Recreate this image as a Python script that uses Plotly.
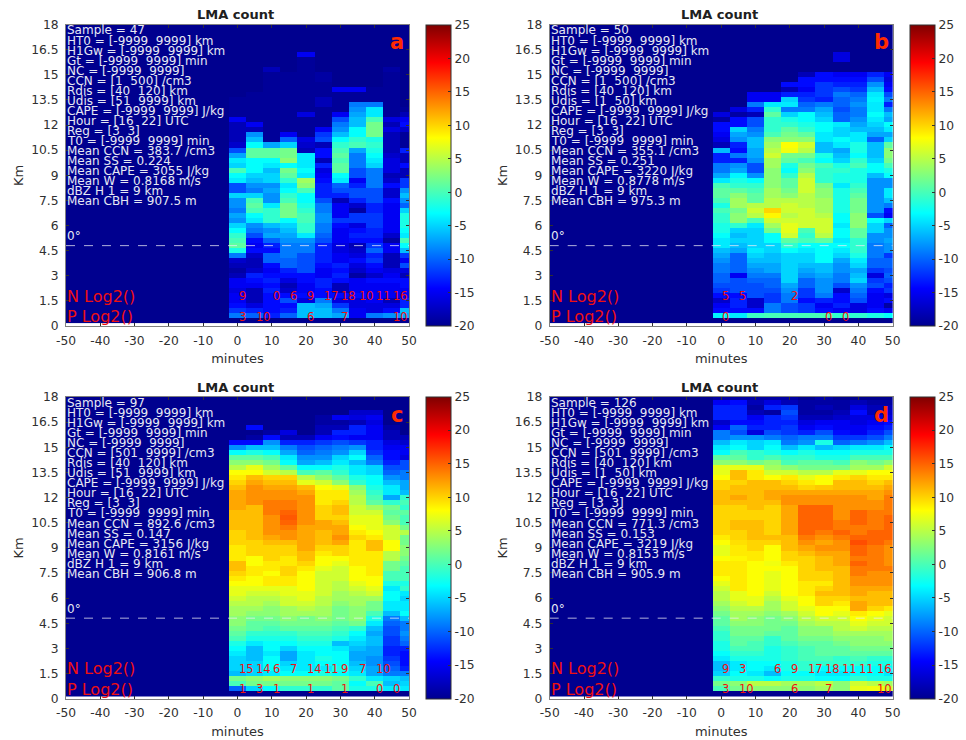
import plotly.graph_objects as go

# ---------- data ----------
minutes = [-50, -45, -40, -35, -30, -25, -20, -15, -10, -5, 0, 5, 10, 15, 20, 25, 30, 35, 40, 45, 50]
post_minutes = [0, 5, 10, 15, 20, 25, 30, 35, 40, 45, 50]
heights = [round(0.3 * k, 1) for k in range(1, 61)]
x_ticks = [-50, -40, -30, -20, -10, 0, 10, 20, 30, 40, 50]
y_ticks = [0, 1.5, 3, 4.5, 6, 7.5, 9, 10.5, 12, 13.5, 15, 16.5, 18]
y_tick_text = ["0", "1.5", "3", "4.5", "6", "7.5", "9", "10.5", "12", "13.5", "15", "16.5", "18"]
cb_ticks = [-20, -15, -10, -5, 0, 5, 10, 15, 20, 25]

# each inner list is one time column, listed from the lowest height bin upward
a_cols = [
 [-20,-9,-12,-14,-15,-15,-16,-15,-15,-18,-19,-18,-17,-9,-2,1,0,-1,-3,-5,-8,-7,-9,-8,-8,-5,-11,-11,-4,-3,0,-5,-4,-7,-11,-17,-18,-18,-18,-18,-15,-19.5,-19.5,-19.5,-19.5],
 [-20,-10,-13,-16,-18,-18,-18,-15,-14,-13,-17,-18,-18,-17,-14,-15,-14,-11,-9,-8,-4,-3,0,1,0,-5,-9,-8,-6,-5,-3,-3,-3,1,1,-3,-6,-8,-18,-15,-19.5,-19.5,-19.5,-19.5,-19.5,-19.5],
 [-20,-13,-14,-14,-14,-14,-13,-14,-13,-14,-15,-14,-10,-10,-14,-13,-10,-7,-8,-6,-1,-1,-1,-4,-8,-8,-7,-8,-5,-5,-6,-4,-3,1,1,-7,-19.5,-19.5,-19.5,-19.5,-19.5,-19.5,-19.5,-19.5,-19.5,-19.5,-19.5,-19.5,-19.5,-19.5,-18],
 [-20,-10,-13,-14,-11,-14,-17,-18,-16,-14,-13,-10,-10,-9,-9,-9,-8,-7,-6,-5,-3,2,2,2,0,-1,-3,-4,-1,1,2,-3,3,2,2,-5,-10,-15,-19.5,-19.5,-19.5,-19.5,-19.5,-19.5,-19.5,-19.5,-19.5,-19.5,-19.5,-19.5],
 [-20,-6,-6,-6,-16,-14,-15,-15,-14,-14,-11,-11,-11,-11,-9,-9,-8,-4,-1,-1,0,0,-1,-2,-3,-3,0,3,4,-4,-3,-4,-4,-4,-18,-17,-16,-19.5,-19.5,-19.5,-19.5,-16,-19.5,-19.5,-19.5,-19.5,-19.5,-19.5,-19.5,-19.5,-19.5,-19.5,-19.5,-15],
 [-20,-6,-6,-7,-9,-14,-14,-13,-13,-15,-15,-14,-13,-13,-13,-13,-11,-10,-9,-9,-8,-8,-9,-9,-11,-13,-13,-13,-14,-15,-16,-13,-18,-14,-14,-18,-11,-12,-15,-19.5,-19.5,-19.5,-19.5,-18,-18,-19.5,-19.5,-19.5,-19,-19],
 [-20,-7,-9,-12,-16,-14,-18,-18,-14,-13,-14,-13,-15,-15,-16,-16,-15,-15,-15,-14,-12,-15,-15,-15,-18,-13,-11,-10,-4,-3,1,1,0,1,0,-1,-3,-6,-8,-9,-11,-15,-19.5,-19.5,-19.5,-19.5,-15],
 [-20,-15,-15,-16,-16,-14,-15,-15,-15,-19,-17,-16,-14,-16,-17,-18,-14,-13,-14,-16,-12,-12,-19,-17,-13,-11,-11,-13,-15,-11,-11,-9,-9,-9,-7,0,-1,-3,-3,-6,-6,-7,-8,-9,-19.5,-19.5,-15],
 [-20,-9,-16,-16,-15,-15,-15,-15,-14,-17,-15,-14,-12,-13,-10,-12,-14,-13,-13,-12,-12,-12,-13,-13,-11,-11,-11,-9,-9,-9,-9,-5,-4,-3,-2,-1,-2,2,2,2,0,-4,-4,-9,-19.5,-19.5,-19.5],
 [-20,-8,-14,-16,-18,-15,-15,-15,-14,-15,-16,-18,-18,-18,-15,-15,-19,-17,-15,-15,-15,-15,-15,-15,-14,-17,-17,-14,-17,-18,-16,-16,-16,-17,-18,-18,-18,-18,-16,-18,-16,-19.5,-19.5,-19.5,-19.5,-19.5,-19.5,-19.5,-19.5,-19.5,-19],
 [-20,-7,-6,-13,-13,-15,-15,-14,-14,-18,-16,-11,-15,-12,-6,-3,0,-4,-3,-2,-2,-2,-5,-10,-8,-6,-8,-12,-12,-18,-18,-14,-18,-18,-13,-19.5,-19.5,-19.5,-17,-14,-15,-18,-19.5],
]
b_cols = [
 [-20,-3.5,-14,-15,-17,-14,-12,-11,-10,-10,-9,-9,-8,-7,-6,-4,-4,-3,-2,-2,-1,-1,0,-2,0,1,1,0,-4,-7,-9,-9,-13,-13,-6,-18,-16,-15,-14,-14,-19,-16],
 [-20,-4,-14,-13,-13,-14,-11,-11,-11,-15,-10,-10,-10,-10,-7,-6,-5,-6,-5,-1,3,3,2,4,4,3,1,-1,-2,-3.5,-7,-8,-13,-9,-14,-13,-8,-7,-5,-14,-14,-19,-16],
 [-20,-0.5,-14,-17,-17,-11,-11,-11,-10,-9,-8,-7,-6,-5,-4,-5,-5,-5,-5,-4,0,5,6,5,1,1,0,-1,-3,-8,-11,-11,-8,-7,-7,-6,-6,-8,-9,-11,-11,-18,-13,-9,-15,-15],
 [-20,0,-9,-9,-12,-12,-11,-10,-10,-9,-7,-7,-6,-6,-5,-5,-3,-3,2,4,6,8.5,10,5,5,4,4,3,3,3,3,4,4,6,5,4,3,0,-1,-1,-1,1,-1,-4,-15,-15],
 [-20,0,-11,-11,-9,-9,-8,-7,-5,-5,-5,-5,-5,-5,-3,-1,1,6,7,7,6,5,6,6,5,3,2,1,1,-1,-3,-2,1,2,7.5,8,3,2,1,-1,-2,-5,-9,-4,-5,-13,-18,-14],
 [-20,0,-12,-12,-14,-12,-12,-10,-10,-8,-7,-6,-5,-5,-4,-3,0,-1,0,6,6,6,6,5,5,5,6,6,6,5,3,2,0,2,5,6,3,1,-1,-2,-3,-3,-9,-10,-12,-13,-15,-14,-14,-18],
 [-20,0,-14,-15,-13,-9,-8,-8,-8,-7,-6,-6,-3,-3,-3,-3,1,5,6,6,6,5,4,4,4,3,3,2,-1,-1,-1,0,-3,-2,-6,-6,-4,-4,-3,-3,-5,-6,-7,-9,-13,-12,-12,-12,-14,-14],
 [-20,-1,-15,-13,-14,-14,-17,-11,-9,-9,-8,-8,-7,-5,-4,-3,-4,-3,-3,-4,-3,-3,-2,-2,-2,-2,-2,-4,-2,-2,-1,-2,-5,-6,-7,-4,-3,-5,-5,-4,-10,-10,-11,-10,-10,-9,-11,-13,-14,-15,-20,-20,-16,-16],
 [-20,-1,-16,-16,-11,-10,-9,-8,-5,-6,-7,-5,-4,-2,-1,-1,-1,1,1,3,3,3,2,2,2,1,0,-1,-2,-2,-2,0,-1,-3,-2,-2,-4,-4,-6,-7,-8,-9,-9,-8,-9,-10,-12,-13,-14,-15],
 [-20,-2,-14,-15,-15,-15,-14,-11,-12,-16,-12,-10,-10,-9,-9,-9,-8,-8,-5,-5,-3,-11,-8,-8,-8,-8,-8,-8,-8,-6,-3,-3,-5,-6,-6,-6,-10,-7,-6,-5,-4,-3,-4,-4,-3.5,-4,-6,-8,-11,-13],
 [-20,-3,-15,-19,-14,-16,-12,-13,-11,-10,-11,-10,-10,-12,-8,-8,-7,-8,-8,-10,-5,-15,-14,-9,-6,-4,-4,-8,-8,-3,-2,0,2,3,3,1,-5,-7,-4,-3,-7,-6,-9,-13,-9,-11,-14,-15,-16,-15],
]
c_cols = [
 [-20,-10,0,2,-6,-5,-5,-5,-4,-3,-2,0,1,2,3,3,4,4,5,6,7,7,8,9,10,11,11,9,9,9,10,10,10,11,11,11,11,12,12,12,12,11,10,9,8,5,3,1,-3,-8,-14],
 [-20,-5,2,3,-5,-5,-5,-6,-6,-6,-4,-2,-1,1,1,2,3,4,5,5,6,7,8,8,9,9,8,8,10,10,10,11,11,11,11,11,11,11,13,13,13,13,12,11,8,7,3,1,-2,-6,-14,-19,-20,-14],
 [-20,-3,2,4,-4,-3,-3,-3,-4,-3,-3,-2,-1,0,1,2,3,3,4,5,6,7,9,9,8,9,9,10,10,10,11,12,13,13,13,13,14,14,14,13,13,12,11,10,6,4,2,0,-3,-6,-8,-14,-19],
 [-20,-1,2,3,-3,-4,-5,-7,-7,-5,-3,-2,-1,1,2,3,4,4,6,6,7,7,9,9,10,10,9,9,10,10,11,13,13,14,15,15.5,15,14,14,13,13,12,11,10,5,1,-3,-4,-7,-9,-13,-18,-16],
 [-20,-1,2,3,-3,-4,-4,-4,-4,-3,-2,-1,0,1,2,2,4,5,6,7,7,8,8,8,8,9,10,11,11,12,12,12,12,12,13,13,13,13,13,13,12,11,7,5,0,-3,-7,-8,-10,-11,-13,-18,-20],
 [-20,-1,2,3,-2,-4,-3,-2,-3,-3,-2,-1,0,1,2,3,4,4,5,5,6,6,6,6,6,7,8,8,9,10,11,11,11,12,12,10,10,10,9,9,9,8,6,3,1,-3,-6,-8,-9,-10,-12,-15,-18,-18,-19,-19],
 [-20,1,1,2,-3,-2,-3,-3,-3,-4,-6,-2,-1,0,1,2,2,2,3,4,4,5,5,6,6,6,7,8,10,10,12,13,12,12,11,10,11,11,10,9,9,7,3,1,-1,-2,-4,-5,-8,-9,-11,-14,-13,-18,-19,-15],
 [-20,-2,-3,-1,-4,-5,-6,-7,-7,-6,-5,-4,-3,-1,2,3,3,3,4,4,5,6,7,8,8,8,9,9,9,9,9,10,9,8,7,7,6,6,5,5,4,3,-1,-2,-4,-4,-6,-3,-5,-8,-12,-15,-13,-13,-18,-16,-17],
 [-20,-2,0,-4,-7,-7,-8,-8,-7,-7,-6,-6,-7,-6,-4,-2,0,2,2,4,6,7,8,8,9,9,9,9,9,11,11,9,8,7,7,7,6,4,1,0,-1,-2,-3,-3,-5,-5,-9,-10,-12,-13,-13,-15,-15,-15,-16,-15,-17],
 [-20,-4,-6,-5,-9,-10,-11,-12,-13,-13,-12,-12,-11,-11,-10,-9,-6,-4,-4,-3,-3,-4,-2,0,0,2,2,5,5,8,8,6,6,6,3,2,1,2,-1,-7,-4,-4,-6,-8,-10,-11,-13,-14,-14,-15,-16,-18,-18,-19],
 [-20,-4,-5,-6,-9,-13,-14,-14,-14,-13,-10,-9,-8,-9,-9,-6,-3,-4,-4,-5,-4,-1,-2,0,0,0,1,2,3,3,2,2,5,2,0,0,1,-1,0,-1,-6,-7,-7,-9,-9,-11,-11,-16,-15,-15,-17,-18],
]
d_cols = [
 [-20,0,2,-1,-5,-6,-6,-4,-3,-2,-2,-1,-1,0,1,1,2,3,4,5,5,6,7,8,9,9,9,8,7,7,8,9,10,10,10,10,10,10,11,11,11,10,10,8,7,7,3,1,-3,-4,-6,-9,-9,-15,-17,-13,-13,-13,-15,-19],
 [-20,2,3,-2,-3,-4,-4,-2,-1,0,1,1,2,2,3,4,4,5,6,7,7,9,9,9,9,9,9,8.5,9,9,9.5,10,10,11,11,10,10,10,11,12,11,11,10,11,11,7,3,1,0,-3,-4,-8,-11,-10,-14,-13,-13,-13,-14,-19],
 [-20,3,5,-2,-4,-3,-3,-2,-1,0,0,1,2,2,3,3,4,5,7,7,8,8,8,8,8,8,8,9,9,10,10,11,11,11,11,10,10,11,11,11,11,11,11,9,9,7,2,-1,-1,-5,-5,-8,-16,-13,-14,-15,-18,-19,-18,-19],
 [-20,3,5,-3,-6,-4,-3,-2,-2,-2,-1,-1,1,2,2,2,3,4,4,5,6,7,7,7,7,8,7.5,8,8,8,10,11,10,10,10,10,10,10,11,12,12,11,11,8,6,4,3,0,-2,-3,-4,-9,-11,-13,-13,-13,-19,-13,-16,-19],
 [-20,3,4,-2,-3,-2,-2,-1,-1,-1,0,1,1,1,2,3,4,6,6,7,8,8,8,8,8,8,9,10,10,11,11,11,12,12,12,12,12,12,13,13,12,11,10,9,6,3,0,-1,-3,-6,-9,-10,-12,-12,-13,-12,-11,-12,-18,-19],
 [-20,3,4,-2,-3,-1,-1,0,0,0,1,2,3,3,4,5,6,7,8,8,9,9,9,10,10,10,10,10,11,12,13,14,15,15,15,15,15,15,13,13,12,10,9,7,5,2,1,-1,-2,-4,-8,-9,-13,-15,-16,-18,-19,-19,-19,-20],
 [-20,4,5,-3,-4,-3,-1,0,1,1,1,2,3,3,5,6,8,8,10,10,11,10,9,10,10,11,11,11,12,13,12,13,14,15,15,15,15,15,13,13,12,10.5,8,8,5,2,1,-2,-3,-6,-2,-9,-11,-14,-15,-18,-19,-18,-19,-19],
 [-20,3,3,-3,-4,-3,-1,-1,1,1,2,3,4,5,5,6,7,8,9,10,11,11,11,11,11,11,12,12,12,13,13,14,15,14,14,13,13,13,13,13,12,11,11,9,7,2,0,-2,-3,-5,-10,-12,-14,-15,-15,-17,-18,-19,-19,-20],
 [-20,7,6,-1,-3,-3,-1,0,1,2,3,3,4,6,7,8,9,12,12,11,12,12,13,13,14,14,15,14,15,15,16,15,14,14,15,15,15,13,13,13,12,11,11,10,7,4,3,0,-2,-4,-9,-12,-15,-15,-16,-16,-14,-16,-18,-20],
 [-20,7.5,5,-2,-3,-3,-2,-1,1,2,3,3,4,5,6,7,8,10,11,11,11,12,13,13,13,14,14,14,14,14,15,15,15,14,14,14,14,13,13,12,12,11,10,9,8,4,2,0,-2,-4,-8,-11,-13,-14,-15,-16,-18,-18,-19,-20],
 [-20,6,4,-2,-4,-3,-2,-1,1,2,3,4,4,5,6,6,7,9,11,11,11,12,13,13,13,14,13,13,13,13,14,15,15,15,15,15,14,14,14,14,13,12,11,9,8,6,3,0,-2,-3,-6,-9,-11,-13,-14,-16,-17,-18,-19,-20],
]

sample = ["47", "50", "97", "126"]
ccn_range = ["1\u00a0\u00a0500", "1\u00a0\u00a0500", "501\u00a0\u00a09999", "501\u00a0\u00a09999"]
udis_range = ["51\u00a0\u00a09999", "1\u00a0\u00a050", "51\u00a0\u00a09999", "1\u00a0\u00a050"]
mean_ccn = ["383.7", "355.1", "892.6", "771.3"]
mean_ss = ["0.224", "0.251", "0.147", "0.153"]
mean_cape = ["3055", "3220", "3156", "3219"]
mean_w = ["0.8168", "0.8778", "0.8161", "0.8153"]
mean_cbh = ["907.5", "975.3", "906.8", "905.9"]
panel_letters = ["a", "b", "c", "d"]

n_minutes = [[0, 10, 15, 20, 25, 30, 35, 40, 45], [0, 5, 20], [0, 5, 10, 15, 20, 25, 30, 35, 40], [0, 5, 15, 20, 25, 30, 35, 40, 45]]
n_values = [[9, 0, 6, 9, 17, 18, 10, 11, 16], [5, 5, 2], [15, 14, 6, 7, 14, 11, 9, 7, 10], [9, 3, 6, 9, 17, 18, 11, 11, 16]]
p_minutes = [[0, 5, 20, 30, 45], [0, 30, 35], [0, 5, 10, 20, 30, 40, 45], [0, 5, 20, 30, 45]]
p_values = [[3, 10, 6, 7, 10], [0, 0, 0], [1, 3, 1, 1, 1, 0, 0], [3, 10, 6, 7, 10]]

freezing_km = 4.8
z_min, z_max = -20, 25

# ---------- layout in pixels ----------
W, H = 966, 740
lefts = [66.0, 549.7, 66.0, 549.7]
rights = [409.0, 892.7, 409.0, 892.7]
tops = [24.6, 24.6, 397.0, 397.0]
bottoms = [326.0, 326.0, 698.6, 698.6]
cb_lefts = [426.3, 910.0, 426.3, 910.0]
cb_w = 24.5

jet = [[0, "#00008f"], [0.125, "#0000ff"], [0.375, "#00ffff"], [0.625, "#ffff00"], [0.875, "#ff0000"], [1, "#800000"]]
FONT = "DejaVu Sans"
INK = "#303030"
TXT = "#e6e8f4"
RED = "#f01010"
TICK_SIZE = 12.3


def grid(cols):
    rows = []
    for r in range(len(heights)):
        row = [-20] * (len(minutes) - len(post_minutes))
        for col in cols:
            row.append(col[r] if r < len(col) else -20)
        rows.append(row)
    return rows


def info_lines(i):
    sp = "\u00a0\u00a0"
    return [
        f"Sample = {sample[i]}",
        f"HT0 = [-9999{sp}9999] km",
        f"H1Gw = [-9999{sp}9999] km",
        f"Gt = [-9999{sp}9999] min",
        f"NC = [-9999{sp}9999]",
        f"CCN = [{ccn_range[i]}] /cm3",
        f"Rdis = [40{sp}120] km",
        f"Udis = [{udis_range[i]}] km",
        f"CAPE = [-9999{sp}9999] J/kg",
        f"Hour = [16{sp}22] UTC",
        f"Reg = [3{sp}3]",
        f"T0 = [-9999{sp}9999] min",
        f"Mean CCN = {mean_ccn[i]} /cm3",
        f"Mean SS = {mean_ss[i]}",
        f"Mean CAPE = {mean_cape[i]} J/kg",
        f"Mean W = {mean_w[i]} m/s",
        "dBZ H 1 = 9 km",
        f"Mean CBH = {mean_cbh[i]} m",
    ]


fig = go.Figure()
annotations, shapes, layout_axes = [], [], {}

for i, cols in enumerate([a_cols, b_cols, c_cols, d_cols]):
    sfx = "" if i == 0 else str(i + 1)
    xa, ya = "x" + sfx, "y" + sfx
    fig.add_trace(go.Heatmap(
        x=minutes, y=heights, z=grid(cols), xaxis=xa, yaxis=ya,
        zmin=z_min, zmax=z_max, colorscale=jet, hoverongaps=False,
        colorbar=dict(
            x=cb_lefts[i] / W, xanchor="left", xref="paper", xpad=0,
            y=1 - bottoms[i] / H, yanchor="bottom", yref="paper", ypad=0,
            len=(bottoms[i] - tops[i]) / H, lenmode="fraction",
            thickness=cb_w, thicknessmode="pixels",
            tickmode="array", tickvals=cb_ticks, ticktext=[str(v) for v in cb_ticks],
            ticks="inside", ticklen=3, tickcolor=INK, tickwidth=1,
            outlinecolor=INK, outlinewidth=1,
            tickfont=dict(family=FONT, size=TICK_SIZE, color=INK),
        ),
    ))
    layout_axes["xaxis" + sfx] = dict(
        domain=[lefts[i] / W, rights[i] / W], anchor=ya, range=[-50, 50], automargin=False,
        tickmode="array", tickvals=x_ticks, ticktext=[str(v) for v in x_ticks],
        ticks="inside", ticklen=3, tickcolor=INK, mirror="ticks", showline=True, linecolor="#808080",
        linewidth=1, showgrid=False, zeroline=False, ticklabelstandoff=3,
        tickfont=dict(family=FONT, size=TICK_SIZE, color=INK),
        title=dict(text="minutes", standoff=7, font=dict(family=FONT, size=13, color=INK)),
    )
    layout_axes["yaxis" + sfx] = dict(
        domain=[1 - bottoms[i] / H, 1 - tops[i] / H], anchor=xa, range=[0, 18], automargin=False,
        tickmode="array", tickvals=y_ticks, ticktext=y_tick_text,
        ticks="inside", ticklen=3, tickcolor=INK, mirror="ticks", showline=True, linecolor="#808080",
        linewidth=1, showgrid=False, zeroline=False, ticklabelstandoff=4,
        tickfont=dict(family=FONT, size=TICK_SIZE, color=INK),
        title=dict(text="Km", standoff=4, font=dict(family=FONT, size=13, color=INK)),
    )
    shapes.append(dict(type="line", xref=xa, yref=ya, x0=-50, x1=50, y0=freezing_km, y1=freezing_km,
                       line=dict(color="rgba(235,235,245,0.75)", width=1, dash="dash")))

    def note(x, y, text, size, color, anchor="left", bold=False):
        annotations.append(dict(
            xref=xa, yref=ya, x=x, y=y, text=f"<b>{text}</b>" if bold else text,
            showarrow=False, xanchor=anchor, yanchor="middle", align=anchor, borderpad=0,
            font=dict(family=FONT, size=size, color=color),
        ))

    for j, line in enumerate(info_lines(i)):
        note(-50, 17.65 - 0.6 * j, line, 12, TXT)
    note(-50, 5.37, "0°", 12, TXT)
    note(-50, 1.78, "N Log2()", 16, RED)
    note(-50, 0.56, "P Log2()", 16, RED)
    for t, v in zip(n_minutes[i], n_values[i]):
        note(t, 1.78, str(v), 11.5, RED)
    for t, v in zip(p_minutes[i], p_values[i]):
        note(t, 0.56, str(v), 11.5, RED)
    note(46.6, 16.95, panel_letters[i], 21, "#ff2a00", anchor="center", bold=True)
    annotations.append(dict(
        xref="paper", yref="paper", x=((lefts[i] + rights[i]) / 2 - 2) / W, y=1 - (tops[i] - 10) / H,
        text="<b>LMA count</b>", showarrow=False, xanchor="center", yanchor="middle",
        font=dict(family=FONT, size=13, color="#202020"),
    ))

fig.update_layout(
    width=W, height=H, autosize=False, margin=dict(l=0, r=0, t=0, b=0, autoexpand=False),
    paper_bgcolor="white", plot_bgcolor="white",
    annotations=annotations, shapes=shapes, **layout_axes,
)
fig.write_html("out.html", config={"displayModeBar": False},
               post_script="document.body.style.margin='0';document.documentElement.style.overflow='hidden';")
